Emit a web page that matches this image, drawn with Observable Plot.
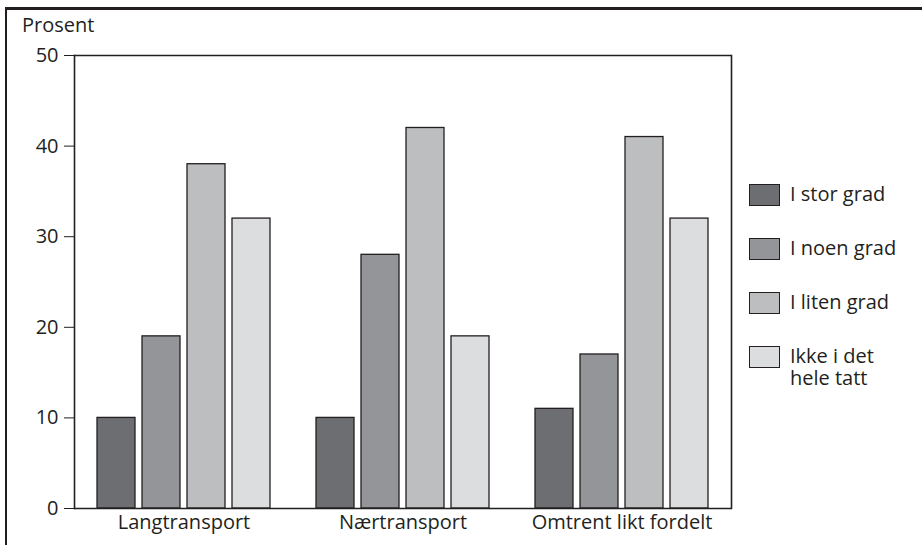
<!DOCTYPE html>
<html>
<head>
<meta charset="utf-8">
<script src="https://cdn.jsdelivr.net/npm/d3@7"></script>
<script src="https://cdn.jsdelivr.net/npm/@observablehq/plot@0.6"></script>
<style>
  html, body { margin: 0; padding: 0; background: #fff; }
  #chart { position: relative; width: 922px; height: 545px; overflow: hidden;
           font-family: "Open Sans", sans-serif; color: #231f20; }
  #box { position: absolute; left: 5px; top: 7px; right: -10px; bottom: -10px;
         border-top: 3px solid #231f20; border-left: 2px solid #231f20; pointer-events: none; }
  #ylabel { position: absolute; left: 22px; top: 11px; font-size: 20px; line-height: 28px; }
  #legend { position: absolute; left: 749px; top: 184px; }
  .item { display: flex; align-items: flex-start; margin-bottom: 32px; }
  .swatch { width: 29px; height: 20px; border: 1.3px solid #231f20; flex: none; }
  .item span { margin-left: 10px; font-size: 20px; line-height: 22px; width: 110px; margin-top: -1px; }
  #chart svg { position: absolute; left: 0; top: 0; }
</style>
</head>
<body>
<div id="chart">
  <div id="box"></div>
  <div id="ylabel">Prosent</div>
  <div id="legend"></div>
</div>
<script>
// Transport type groups and answer categories
const groups = ["Langtransport", "Nærtransport", "Omtrent likt fordelt"];
const series = ["I stor grad", "I noen grad", "I liten grad", "Ikke i det hele tatt"];

// Percent per answer category, one array per group
const langtransport = [10, 19, 38, 32];
const naertransport = [10, 28, 42, 19];
const omtrentLikt = [11, 17, 41, 32];

const colors = ["#6d6e71", "#939598", "#bcbec0", "#dcdddf"];
const yTicks = [0, 10, 20, 30, 40, 50];

const values = [langtransport, naertransport, omtrentLikt];
const rows = groups.flatMap((g, gi) =>
  values[gi].map((v, si) => ({group: g, series: series[si], value: v}))
);

const ink = "#231f20";

const chart = Plot.plot({
  width: 922,
  height: 545,
  marginLeft: 74,
  marginRight: 191,
  marginTop: 55,
  marginBottom: 37,
  style: {fontFamily: "'Open Sans', sans-serif", fontSize: "20px", color: ink, background: "transparent", overflow: "visible"},
  fx: {domain: groups, padding: 0, label: null, tickSize: 0, tickPadding: 6, axis: "bottom"},
  x: {domain: series, paddingInner: 0.165, paddingOuter: 0.49, axis: null},
  y: {domain: [0, 50], ticks: yTicks, tickSize: 10, tickPadding: 6, label: null},
  color: {domain: series, range: colors},
  marks: [
    Plot.barY(rows, {fx: "group", x: "series", y: "value", fill: "series", stroke: ink, strokeWidth: 1.3}),
    Plot.ruleY([0, 50], {stroke: ink, strokeWidth: 1.6}),
    Plot.frame({anchor: "left", facetAnchor: "left", stroke: ink, strokeWidth: 1.6}),
    Plot.frame({anchor: "right", facetAnchor: "right", stroke: ink, strokeWidth: 1.6})
  ]
});
document.getElementById("chart").appendChild(chart);

// Legend built from the same categories and colours
const legend = document.getElementById("legend");
series.forEach((s, i) => {
  const item = document.createElement("div");
  item.className = "item";
  const sw = document.createElement("div");
  sw.className = "swatch";
  sw.style.background = colors[i];
  const label = document.createElement("span");
  label.textContent = s;
  item.appendChild(sw);
  item.appendChild(label);
  legend.appendChild(item);
});
</script>
</body>
</html>
